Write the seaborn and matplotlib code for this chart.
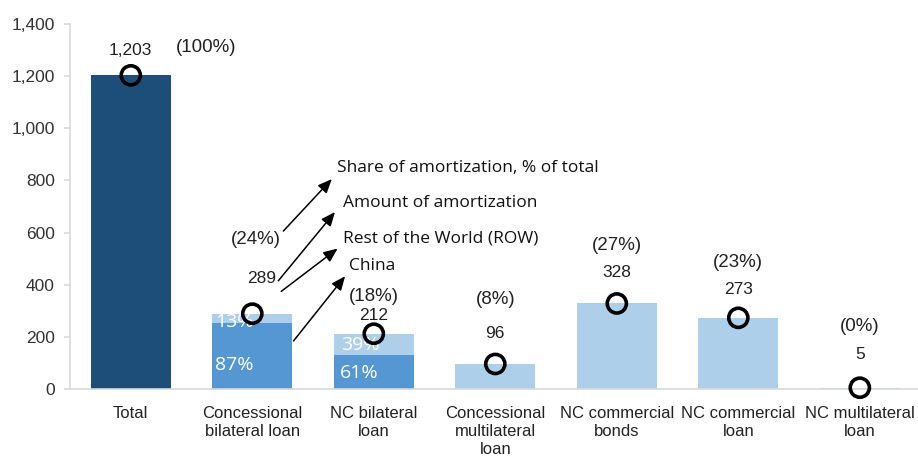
#!/usr/bin/env python3
"""Amortization by creditor type, with China / ROW split for bilateral loans."""

import matplotlib
matplotlib.use("Agg")
import matplotlib.pyplot as plt
import numpy as np
import pandas as pd
import seaborn as sns
from matplotlib.ticker import FuncFormatter

CATEGORIES = [
    "Total",
    "Concessional\nbilateral loan",
    "NC bilateral\nloan",
    "Concessional\nmultilateral\nloan",
    "NC commercial\nbonds",
    "NC commercial\nloan",
    "NC multilateral\nloan",
]
AMOUNTS = [1203, 289, 212, 96, 328, 273, 5]
SHARES = ["(100%)", "(24%)", "(18%)", "(8%)", "(27%)", "(23%)", "(0%)"]
CHINA_SHARE = [0, 87, 61, 0, 0, 0, 0]   # % of the bar held by China
ROW_SHARE = [0, 13, 39, 0, 0, 0, 0]
Y_TICKS = [0, 200, 400, 600, 800, 1000, 1200, 1400]

DARK = "#1d4e79"
MID = "#5497d3"
LIGHT = "#aecfe9"
GREY = "#d9d9d9"

# label offsets above each circle, in pixels (amount, share)
AMOUNT_OFF = [25, 35, 18, 30, 31, 28, 33]
AMOUNT_DX = [0, 9, 0, 0, 0, 0, 0]
SHARE_OFF = [28, 74, 37, 64, 58, 55, 61]
SHARE_DX = [75, 4, 0, 0, 0, 0, 0]


def main() -> None:
    df = pd.DataFrame({"category": CATEGORIES, "amount": AMOUNTS})
    df["china"] = df["amount"] * np.array(CHINA_SHARE) / 100
    colors = [DARK] + [LIGHT] * (len(CATEGORIES) - 1)

    sns.set_theme(style="white")
    plt.rcParams["font.family"] = ["Liberation Sans", "DejaVu Sans"]

    fig = plt.figure(figsize=(9.18, 4.57), dpi=100)
    ax = fig.add_axes([0.0763, 0.1488, 0.9265, 0.7987])

    sns.barplot(data=df, x="category", y="amount", hue="category",
                palette=colors, width=0.66, saturation=1, legend=False,
                linewidth=0, edgecolor="none", ax=ax)
    sns.barplot(data=df, x="category", y="china", color=MID,
                width=0.66, saturation=1, linewidth=0, edgecolor="none", ax=ax)

    pos = np.arange(len(CATEGORIES))
    ax.scatter(pos, AMOUNTS, s=190, facecolors="none", edgecolors="black",
               linewidths=2.6, zorder=5, clip_on=False)

    px = 0.72  # points per pixel at 100 dpi
    for i, (amt, share) in enumerate(zip(AMOUNTS, SHARES)):
        ax.annotate(f"{amt:,}", (i, amt),
                    xytext=(AMOUNT_DX[i] * px, AMOUNT_OFF[i] * px),
                    textcoords="offset points", ha="center", va="center",
                    fontsize=12.5, color="#222222")
        ax.annotate(share, (i, amt), xytext=(SHARE_DX[i] * px, SHARE_OFF[i] * px),
                    textcoords="offset points", ha="center", va="center",
                    fontsize=13.5, color="#222222")

    # China / ROW split labels inside the stacked bars
    inner = [(0.85, 257, f"{ROW_SHARE[1]}%"), (0.85, 92, f"{CHINA_SHARE[1]}%"),
             (1.89, 169, f"{ROW_SHARE[2]}%"), (1.88, 61, f"{CHINA_SHARE[2]}%")]
    for x, y, t in inner:
        ax.text(x, y, t, color="white", fontsize=14, ha="center", va="center",
                family=["Open Sans", "DejaVu Sans"])

    # legend-like callouts
    callouts = [
        ("Share of amortization, % of total", (1.24, 598), (1.67, 813), (1.70, 848)),
        ("Amount of amortization", (1.20, 407), (1.695, 687), (1.745, 712)),
        ("Rest of the World (ROW)", (1.22, 368), (1.72, 545), (1.745, 579)),
        ("China", (1.325, 176), (1.778, 441), (1.794, 472)),
    ]
    for label, start, end, txt in callouts:
        ax.annotate("", xy=end, xytext=start,
                    arrowprops=dict(arrowstyle="-|>,head_length=0.7,head_width=0.3",
                                    color="black", lw=1.1))
        ax.text(txt[0], txt[1], label, ha="left", va="center", fontsize=12.5,
                family=["Open Sans", "DejaVu Sans"], color="#111111")

    ax.set_xlim(-0.5, 6.5)
    ax.set_ylim(0, 1400)
    ax.set_yticks(Y_TICKS)
    ax.yaxis.set_major_formatter(FuncFormatter(lambda v, _: f"{int(v):,}"))
    ax.set_xlabel("")
    ax.set_ylabel("")
    ax.tick_params(axis="y", left=True, length=4, color=GREY, labelsize=12.5,
                   labelcolor="#333333", pad=7)
    ax.tick_params(axis="x", bottom=False, labelsize=12, labelcolor="#222222", pad=6)
    ax.set_xticks(pos)
    ax.set_xticklabels(CATEGORIES, linespacing=1.25)
    for side in ["top", "right"]:
        ax.spines[side].set_visible(False)
    for side in ["left", "bottom"]:
        ax.spines[side].set_color(GREY)
        ax.spines[side].set_linewidth(1.2)

    fig.savefig("out.png", dpi=100)


if __name__ == "__main__":
    main()
